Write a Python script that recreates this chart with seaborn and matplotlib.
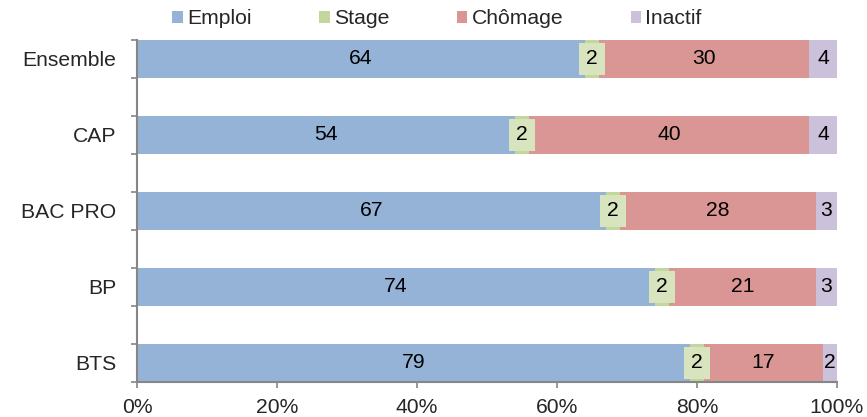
import numpy as np
import seaborn as sns
import matplotlib.pyplot as plt
from matplotlib.patches import Patch
from matplotlib.ticker import PercentFormatter

# data
categories = ['Ensemble', 'CAP', 'BAC PRO', 'BP', 'BTS']
series = ['Emploi', 'Stage', 'Chômage', 'Inactif']
emploi = [64, 54, 67, 74, 79]
stage = [2, 2, 2, 2, 2]
chomage = [30, 40, 28, 21, 17]
inactif = [4, 4, 3, 3, 2]

colors = ['#95B3D7', '#C3D69B', '#D99694', '#CCC1DA']
stage_box = '#D7E4BD'

sns.set_style('ticks')
plt.rcParams['font.family'] = ['Liberation Sans', 'DejaVu Sans']
fs = 15.2

fig = plt.figure(figsize=(8.67, 4.17), dpi=100)
ax = fig.add_axes([137 / 867, 1 - 382 / 417, 700 / 867, 342 / 417])

values = np.array([emploi, stage, chomage, inactif], dtype=float)
cum = values.cumsum(axis=0)

# stacked bars: draw cumulative totals from the right-most layer back
for i in range(len(series) - 1, -1, -1):
    sns.barplot(x=cum[i], y=categories, color=colors[i], width=0.5,
                saturation=1, errorbar=None, orient='h', ax=ax,
                linewidth=0, edgecolor='none')

# value labels
for i in range(len(series)):
    for j in range(len(categories)):
        xc = cum[i, j] - values[i, j] / 2
        kw = {}
        if i == 1:
            kw['bbox'] = dict(boxstyle='square,pad=0.32', fc=stage_box, ec='none')
        ax.text(xc, j, f'{int(values[i, j])}', ha='center', va='center',
                fontsize=fs, color='black', **kw)

ax.set_xlim(0, 100)
ax.set_ylim(4.25, -0.25)
ax.xaxis.set_major_formatter(PercentFormatter(decimals=0))
ax.set_xticks(range(0, 101, 20))
ax.set_xlabel('')
ax.set_ylabel('')

# category labels at centres, small ticks at bar edges
ax.set_yticks(range(len(categories)))
ax.set_yticklabels(categories)
ax.set_yticks(np.arange(-0.25, 4.5, 0.5), minor=True)
ax.tick_params(axis='y', which='major', length=0, pad=15, labelsize=fs)
ax.tick_params(axis='y', which='minor', length=4, width=1.2, color='#868686', direction='out')
ax.tick_params(axis='x', length=4, width=1.2, color='#868686', pad=7.5, labelsize=fs)

for s in ['top', 'right']:
    ax.spines[s].set_visible(False)
for s in ['left', 'bottom']:
    ax.spines[s].set_color('#868686')
    ax.spines[s].set_linewidth(1.5)

handles = [Patch(facecolor=c, edgecolor='none', label=s) for c, s in zip(colors, series)]
fig.legend(handles=handles, loc='center', bbox_to_anchor=(437 / 867, 1 - 19 / 417),
           ncol=4, frameon=False, fontsize=fs, handlelength=0.5, handleheight=0.5,
           handletextpad=0.2, columnspacing=3.2, borderpad=0, borderaxespad=0)

fig.savefig('out.png', dpi=100)
